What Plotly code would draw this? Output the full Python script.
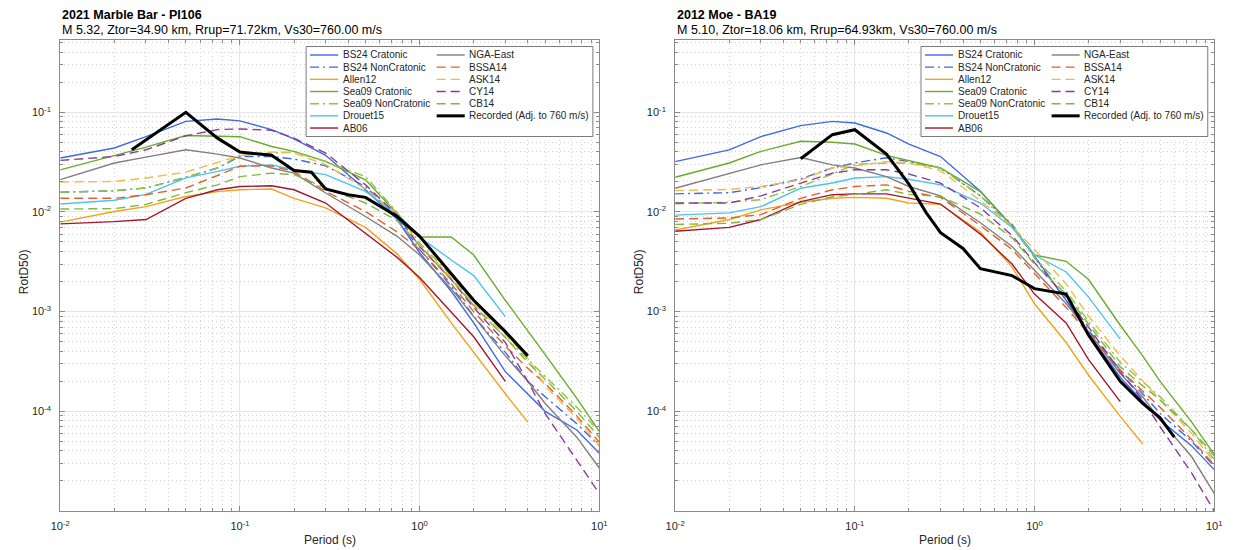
import plotly.graph_objects as go

W, H = 1234, 550

# ---------------- data ----------------
periods = [0.01, 0.02, 0.03, 0.05, 0.075, 0.1, 0.15, 0.2, 0.3, 0.5, 0.75,
           1.0, 1.5, 2.0, 3.0, 4.0, 5.0, 7.5, 10.0]

# Event 1: 2021 Marble Bar - PI106
mb_bs24_crat = [0.0348, 0.0438, 0.057, 0.081, 0.0857, 0.082, 0.067, 0.054, 0.037, 0.0167, 0.0084,
                0.0039, 0.0016, 7.7e-4, 2.5e-4, 1.5e-4, 1.0e-4, 6.5e-5, 3.8e-5]
mb_bs24_noncrat = [0.0158, 0.0163, 0.0174, 0.0222, 0.0276, 0.036, 0.036, 0.034, 0.029, 0.018, 0.0088,
                   0.0042, 0.0018, 9.0e-4, 3.9e-4, 2.0e-4, 1.4e-4, 7.5e-5, 4.5e-5]
mb_allen12 = [0.0079, 0.0101, 0.0113, 0.0143, 0.016, 0.0167, 0.017, 0.0137, 0.011, 0.007, 0.0038,
              0.0021, 7.7e-4, 3.9e-4, 1.5e-4, 7.8e-5, None, None, None]
mb_sea09_crat = [0.0264, 0.037, 0.0447, 0.0585, 0.058, 0.0569, 0.0454, 0.0405, 0.0322, 0.021, 0.0096,
                 0.0056, 0.0056, 0.0037, 0.0013, 6.3e-4, 3.7e-4, 1.35e-4, 6.3e-5]
mb_sea09_noncrat = [0.0158, 0.0163, 0.0174, 0.0222, 0.0276, 0.037, 0.039, 0.040, 0.032, 0.0226, 0.0099,
                    0.0049, 0.0023, 1.15e-3, 5.5e-4, 3.3e-4, 2.25e-4, 1.1e-4, 6.3e-5]
mb_drouet15 = [0.0120, 0.0131, 0.015, 0.022, 0.0255, 0.0287, 0.0297, 0.0265, 0.0237, 0.0161, 0.0095,
               0.0056, 0.0033, 0.0023, 8.9e-4, None, None, None, None]
mb_ab06 = [0.0076, 0.0080, 0.0084, 0.0137, 0.0167, 0.018, 0.0183, 0.0167, 0.0123, 0.0061, 0.0035,
           0.0022, 1.0e-3, 5.6e-4, 2.0e-4, None, None, None, None]
mb_nga_east = [0.0211, 0.031, 0.0355, 0.0421, 0.038, 0.0348, 0.0276, 0.0245, 0.0155, 0.009, 0.0057,
               0.0037, 0.0017, 9.0e-4, 3.6e-4, 2.0e-4, 1.2e-4, 5.5e-5, 2.7e-5]
mb_bssa14 = [0.0137, 0.0137, 0.0149, 0.0174, 0.0232, 0.0287, 0.029, 0.0255, 0.0161, 0.0101, 0.0063,
             0.0042, 0.0019, 1.0e-3, 4.5e-4, 2.7e-4, 1.9e-4, 9.0e-5, 4.9e-5]
mb_ask14 = [0.0200, 0.0202, 0.0219, 0.0251, 0.0314, 0.0367, 0.040, 0.039, 0.0298, 0.017, 0.0096,
            0.0047, 0.0022, 1.2e-3, 5.9e-4, 3.4e-4, 1.8e-4, 8.5e-5, 4.5e-5]
mb_cy14 = [0.0329, 0.036, 0.0421, 0.058, 0.067, 0.068, 0.066, 0.055, 0.039, 0.0187, 0.0093,
           0.0045, 0.0021, 1.1e-3, 4.9e-4, 2.0e-4, 9.5e-5, 3.2e-5, 1.5e-5]
mb_cb14 = [0.0107, 0.0108, 0.0119, 0.0156, 0.0187, 0.0226, 0.0245, 0.0237, 0.0174, 0.0123, 0.0082,
           0.0046, 0.0021, 1.15e-3, 5.5e-4, 3.1e-4, 2.1e-4, 1.0e-4, 5.5e-5]
mb_rec_periods = [0.025, 0.05, 0.075, 0.1, 0.15, 0.2, 0.25, 0.3, 0.4, 0.5, 0.75, 1.0, 1.5, 2.0, 3.0, 4.0]
mb_recorded = [0.042, 0.10, 0.055, 0.040, 0.037, 0.026, 0.025, 0.017, 0.0149, 0.0140, 0.0090,
               0.0057, 0.0024, 0.0013, 6.3e-4, 3.6e-4]

# Event 2: 2012 Moe - BA19
moe_bs24_crat = [0.032, 0.042, 0.057, 0.0735, 0.081, 0.078, 0.062, 0.048, 0.036, 0.0161, 0.0072,
                 0.0036, 0.0013, 6.0e-4, 2.2e-4, 1.25e-4, 8.2e-5, 4.5e-5, 2.6e-5]
moe_bs24_noncrat = [0.0152, 0.0156, 0.0175, 0.0215, 0.0276, 0.031, 0.035, 0.032, 0.0276, 0.0145, 0.0075,
                    0.0035, 0.0013, 6.5e-4, 2.6e-4, 1.5e-4, 9.5e-5, 5.0e-5, 2.8e-5]
moe_allen12 = [0.0066, 0.0084, 0.0105, 0.0125, 0.0137, 0.014, 0.0137, 0.0123, 0.0119, 0.0063, 0.0028,
               0.0012, 4.9e-4, 2.3e-4, 8.9e-5, 4.7e-5, None, None, None]
moe_sea09_crat = [0.0223, 0.031, 0.0405, 0.0512, 0.050, 0.048, 0.037, 0.033, 0.0276, 0.016, 0.0072,
                  0.0037, 0.0032, 0.0021, 7.3e-4, 3.6e-4, 2.0e-4, 7.8e-5, 3.7e-5]
moe_sea09_noncrat = [0.0121, 0.0125, 0.0133, 0.018, 0.024, 0.030, 0.031, 0.031, 0.0276, 0.0145, 0.0070,
                     0.0035, 0.0016, 8.0e-4, 3.1e-4, 2.0e-4, 1.4e-4, 6.5e-5, 3.3e-5]
moe_drouet15 = [0.0093, 0.0098, 0.0113, 0.0173, 0.0195, 0.0219, 0.0226, 0.0213, 0.0187, 0.0123, 0.0070,
                0.0037, 0.0025, 0.0014, 5.3e-4, None, None, None, None]
moe_ab06 = [0.0064, 0.0070, 0.0084, 0.0127, 0.0149, 0.0152, 0.0152, 0.0137, 0.012, 0.006, 0.0030,
            0.0015, 7.7e-4, 3.3e-4, 1.25e-4, None, None, None, None]
moe_nga_east = [0.0173, 0.0245, 0.0297, 0.0352, 0.0297, 0.0276, 0.0226, 0.018, 0.0145, 0.0078, 0.0045,
                0.0026, 0.0012, 6.3e-4, 2.4e-4, 1.4e-4, 8.2e-5, 3.5e-5, 1.5e-5]
moe_bssa14 = [0.0085, 0.0087, 0.0094, 0.0137, 0.0167, 0.018, 0.0187, 0.0161, 0.014, 0.0073, 0.0042,
              0.0024, 1.1e-3, 6.0e-4, 2.6e-4, 1.6e-4, 1.1e-4, 5.2e-5, 2.9e-5]
moe_ask14 = [0.0164, 0.0168, 0.018, 0.021, 0.0276, 0.029, 0.032, 0.031, 0.026, 0.013, 0.0072,
             0.0042, 0.0019, 9.0e-4, 3.6e-4, 2.0e-4, 1.3e-4, 6.0e-5, 3.1e-5]
moe_cy14 = [0.0123, 0.0123, 0.0145, 0.0194, 0.0245, 0.0265, 0.0265, 0.024, 0.0195, 0.011, 0.0058,
            0.0031, 0.0014, 7.0e-4, 2.5e-4, 1.3e-4, 7.0e-5, 2.4e-5, 1.0e-5]
moe_cb14 = [0.0075, 0.0077, 0.0084, 0.0119, 0.0142, 0.015, 0.0167, 0.015, 0.0143, 0.0095, 0.0055,
            0.0030, 0.0015, 7.5e-4, 2.8e-4, 1.8e-4, 1.3e-4, 6.5e-5, 3.6e-5]
moe_rec_periods = [0.05, 0.075, 0.1, 0.15, 0.2, 0.25, 0.3, 0.4, 0.5, 0.75, 1.0, 1.5, 2.0, 3.0, 4.0, 5.0, 6.0]
moe_recorded = [0.0342, 0.0596, 0.0668, 0.038, 0.019, 0.0098, 0.0062, 0.0043, 0.0027, 0.0023, 0.0017,
                0.0015, 5.8e-4, 2.0e-4, 1.2e-4, 8.6e-5, 5.5e-5]

model_names = ["BS24 Cratonic", "BS24 NonCratonic", "Allen12", "Sea09 Cratonic", "Sea09 NonCratonic",
               "Drouet15", "AB06", "NGA-East", "BSSA14", "ASK14", "CY14", "CB14"]
rec_name = "Recorded (Adj. to 760 m/s)"

x_tick_vals = [0.01, 0.1, 1, 10]
x_tick_text = ["10<sup>-2</sup>", "10<sup>-1</sup>", "10<sup>0</sup>", "10<sup>1</sup>"]
y_tick_vals = [1e-4, 1e-3, 1e-2, 1e-1]
y_tick_text = ["10<sup>-4</sup>", "10<sup>-3</sup>", "10<sup>-2</sup>", "10<sup>-1</sup>"]

events = [
    dict(title="2021 Marble Bar - PI106",
         subtitle="M 5.32, Ztor=34.90 km, Rrup=71.72km, Vs30=760.00 m/s",
         models=[mb_bs24_crat, mb_bs24_noncrat, mb_allen12, mb_sea09_crat, mb_sea09_noncrat,
                 mb_drouet15, mb_ab06, mb_nga_east, mb_bssa14, mb_ask14, mb_cy14, mb_cb14],
         rec_x=mb_rec_periods, rec_y=mb_recorded),
    dict(title="2012 Moe - BA19",
         subtitle="M 5.10, Ztor=18.06 km, Rrup=64.93km, Vs30=760.00 m/s",
         models=[moe_bs24_crat, moe_bs24_noncrat, moe_allen12, moe_sea09_crat, moe_sea09_noncrat,
                 moe_drouet15, moe_ab06, moe_nga_east, moe_bssa14, moe_ask14, moe_cy14, moe_cb14],
         rec_x=moe_rec_periods, rec_y=moe_recorded),
]

# ---------------- styles ----------------
DASH = "9px,5px"
DASHDOT = "9px,4px,2px,4px"
style = {
    "BS24 Cratonic": ("#4169E1", "solid"),
    "BS24 NonCratonic": ("#4169E1", DASHDOT),
    "Allen12": ("#F0A41E", "solid"),
    "Sea09 Cratonic": ("#6AAB2E", "solid"),
    "Sea09 NonCratonic": ("#8CC63F", DASHDOT),
    "Drouet15": ("#4CC2F5", "solid"),
    "AB06": ("#A3172F", "solid"),
    "NGA-East": ("#808080", "solid"),
    "BSSA14": ("#E0622A", DASH),
    "ASK14": ("#F5B84A", DASH),
    "CY14": ("#8B3A9C", DASH),
    "CB14": ("#7DBA3A", DASH),
}
FONT = "Liberation Sans, Arial, Helvetica, sans-serif"
MODEL_W = 1.4
REC_W = 3.0

# axis pixel geometry
ax_left_px = [51, 675]
ax_width_px = 547
ax_top_px, ax_bot_px = 40, 511


def px2x(px):
    return px / W


def px2y(py):
    return 1 - py / H


fig = go.Figure()
shapes = []
annotations = []

x_minor = [k * 10.0 ** e for e in range(-2, 1) for k in range(2, 10)]
y_minor = [k * 10.0 ** e for e in range(-5, 0) for k in range(2, 10) if k * 10.0 ** e < 0.53]

for i, ev in enumerate(events):
    sfx = "" if i == 0 else str(i + 1)
    xa, ya = "x" + sfx, "y" + sfx
    for name, vals in zip(model_names, ev["models"]):
        col, dash = style[name]
        fig.add_trace(go.Scatter(x=periods, y=vals, mode="lines", name=name,
                                 line=dict(color=col, width=MODEL_W, dash=dash),
                                 xaxis=xa, yaxis=ya, showlegend=False, hoverinfo="skip"))
    fig.add_trace(go.Scatter(x=ev["rec_x"], y=ev["rec_y"], mode="lines", name=rec_name,
                             line=dict(color="black", width=REC_W),
                             xaxis=xa, yaxis=ya, showlegend=False, hoverinfo="skip"))

    l = ax_left_px[i]
    dom_x = [px2x(l), px2x(l + ax_width_px)]
    dom_y = [px2y(ax_bot_px), px2y(ax_top_px)]
    common = dict(type="log", showline=True, linecolor="#8a8a8a", linewidth=1, mirror="allticks",
                  ticks="inside", ticklen=5, tickcolor="#8a8a8a", tickwidth=1,
                  showgrid=True, gridcolor="#e6e6e6", gridwidth=1, zeroline=False,
                  tickfont=dict(family=FONT, size=11, color="#262626"),
                  tickmode="array")
    minor_common = dict(tickmode="array", ticks="inside", ticklen=3, tickcolor="#8a8a8a",
                        showgrid=True, gridcolor="#d2d2d2", griddash="1px,3px", gridwidth=1)
    fig.layout["xaxis" + sfx] = dict(common, domain=dom_x, range=[-2, 1], anchor=ya,
                                     tickvals=x_tick_vals, ticktext=x_tick_text, ticklabelstandoff=5,
                                     minor=dict(minor_common, tickvals=x_minor))
    fig.layout["yaxis" + sfx] = dict(common, domain=dom_y, range=[-5, -0.275], anchor=xa,
                                     tickvals=y_tick_vals, ticktext=y_tick_text, ticklabelstandoff=6,
                                     minor=dict(minor_common, tickvals=y_minor))

    # titles
    annotations.append(dict(text="<b>" + ev["title"] + "</b>", xref="paper", yref="paper",
                            x=px2x(l), y=px2y(15), xanchor="left", yanchor="middle", showarrow=False,
                            font=dict(family=FONT, size=12.5, color="black")))
    annotations.append(dict(text=ev["subtitle"], xref="paper", yref="paper",
                            x=px2x(l), y=px2y(30.5), xanchor="left", yanchor="middle", showarrow=False,
                            font=dict(family=FONT, size=12.5, color="black")))
    # axis titles
    annotations.append(dict(text="Period (s)", xref="paper", yref="paper",
                            x=px2x(l + ax_width_px / 2), y=px2y(540), xanchor="center", yanchor="middle",
                            showarrow=False, font=dict(family=FONT, size=12, color="#262626")))
    annotations.append(dict(text="RotD50)", xref="paper", yref="paper", textangle=-90,
                            x=px2x(l - 36.5), y=px2y(272), xanchor="center", yanchor="middle",
                            showarrow=False, font=dict(family=FONT, size=12, color="#262626")))

    # legend (two columns, column-major like the original)
    bx0, bx1 = l + 249.5, l + 540.5
    by0, by1 = 46.5, 136.5
    shapes.append(dict(type="rect", xref="paper", yref="paper", layer="above",
                       x0=px2x(bx0), x1=px2x(bx1), y0=px2y(by1), y1=px2y(by0),
                       fillcolor="white", line=dict(color="#5a5a5a", width=0.8)))
    entries = [(n, style[n][0], style[n][1], MODEL_W) for n in model_names]
    entries.append((rec_name, "black", "solid", REC_W))
    for k, (name, col, dash, lw) in enumerate(entries):
        c, r = divmod(k, 7)
        yy = 55.0 + r * 12.17
        sx0 = bx0 + 4 + c * 128.5
        shapes.append(dict(type="line", xref="paper", yref="paper", layer="above",
                           x0=px2x(sx0), x1=px2x(sx0 + 28.5), y0=px2y(yy), y1=px2y(yy),
                           line=dict(color=col, width=lw, dash=dash)))
        annotations.append(dict(text=name, xref="paper", yref="paper",
                                x=px2x(sx0 + 31), y=px2y(yy), xanchor="left", yanchor="middle",
                                showarrow=False, font=dict(family=FONT, size=10, color="#262626")))

fig.update_layout(width=W, height=H, margin=dict(l=0, r=0, t=0, b=0),
                  paper_bgcolor="white", plot_bgcolor="white",
                  shapes=shapes, annotations=annotations, showlegend=False,
                  font=dict(family=FONT))

fig.write_html("out.html")
